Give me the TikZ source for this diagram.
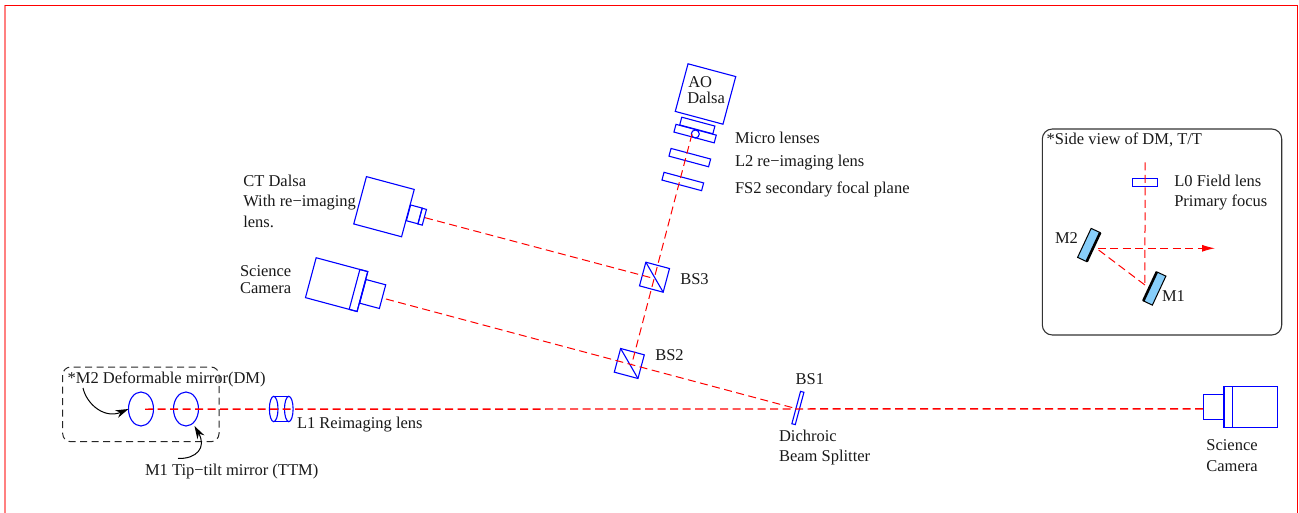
\documentclass[tikz,border=0pt]{standalone}
\usepackage{fontspec}
\setmainfont{Liberation Serif}
\usetikzlibrary{arrows.meta,shapes.geometric}
\definecolor{mirrorblue}{HTML}{87CEFA}
\tikzset{
  optic/.style={draw=blue,line width=1.1pt,rectangle,inner sep=0pt,outer sep=0pt,minimum width=#1},
  tilted/.style={rotate=-15},
  lensdisc/.style={draw=blue,line width=1.1pt,ellipse,inner sep=0pt,outer sep=0pt,minimum width=25pt,minimum height=34pt},
  beam/.style={draw=red,line width=1pt,dash pattern=on 8pt off 4.5pt},
  label/.style={anchor=base west,inner sep=0pt,outer sep=0pt,font=\fontsize{16.5}{18}\selectfont,text=black!90},
  clabel/.style={anchor=base,inner sep=0pt,outer sep=0pt,font=\fontsize{16.5}{18}\selectfont,text=black!90},
  pointer/.style={draw=black,line width=1pt,-{Stealth[length=13pt,width=8pt]}},
  mirrorbar/.style={draw=black,line width=1pt,fill=mirrorblue,rectangle,inner sep=0pt,outer sep=0pt,rotate=-25,minimum width=10pt,minimum height=32pt},
}
\begin{document}
\begin{tikzpicture}[x=1pt,y=-1pt]
\useasboundingbox (0,0) rectangle (1299,513);
% page frame
\draw[red!50,line width=2pt] (5,5) -- (5,513);
\draw[red,line width=1pt] (4.5,5.3) -- (1297,5.3) -- (1297,513);

% --- main rail
\node[lensdisc] (mtwo) at (141,409) {};
\node[lensdisc] (mone) at (186,409) {};
\draw[black!85,line width=1pt,dash pattern=on 7pt off 4.5pt,rounded corners=8pt] (62.7,367) rectangle (219,441.7);
\coordinate (railstart) at (145,409.2);

% L1 cylinder
\node[draw=blue,line width=1.1pt,ellipse,inner sep=0pt,outer sep=0pt,minimum width=8.6pt,minimum height=25.4pt] (lonea) at (273.7,409) {};
\node[draw=blue,line width=1.1pt,ellipse,inner sep=0pt,outer sep=0pt,minimum width=8.6pt,minimum height=25.4pt] (loneb) at (288.8,409) {};
\draw[blue,line width=1.1pt] (lonea.north) -- (loneb.north) (lonea.south) -- (loneb.south);

% right science camera
\node[optic=53.7pt,minimum height=41.7pt] (rbody) at (1250.9,406.9) {};
\node[optic=8.3pt,minimum height=41.7pt] (rband) at (1228.15,406.9) {};
\node[optic=20.7pt,minimum height=24.6pt] (rsmall) at (1213.7,407) {};
\coordinate (railend) at (1203.4,408.8);

% beam splitters
\node[optic=3.5pt,minimum height=33.5pt,tilted] (bsone) at (797.9,408) {};
\node[optic=24.5pt,minimum height=24.5pt,tilted] (bstwo) at (629.3,363.5) {};
\node[optic=24.5pt,minimum height=24.5pt,tilted] (bsthree) at (654.5,277.2) {};
\draw[blue,line width=1.1pt] (bstwo.north west) -- (bstwo.south east);
\draw[blue,line width=1.1pt] (bsthree.north west) -- (bsthree.south east);

% tilted science camera
\node[optic=53.4pt,minimum height=41.3pt,tilted] (sbody) at (336.6,284.6) {};
\node[optic=8.2pt,minimum height=41.3pt,tilted] (sband) at (358.5,290.5) {};
\node[optic=20.4pt,minimum height=24.5pt,tilted] (ssmall) at (372.7,294) {};

% CT Dalsa camera
\node[optic=49.5pt,minimum height=49pt,tilted] (ctbody) at (384,206.7) {};
\node[optic=12pt,minimum height=16.3pt,tilted] (ctlens) at (414.3,214.4) {};
\node[optic=4.5pt,minimum height=16.3pt,tilted] (ctcap) at (422.2,216.7) {};

% AO Dalsa stack
\node[optic=49.4pt,minimum height=49.3pt,tilted] (ao) at (705.5,94) {};
\node[optic=34.3pt,minimum height=8pt,tilted] (mount) at (697.3,125.5) {};
\node[optic=41.7pt,minimum height=8pt,tilted] (micro) at (695.1,133.6) {};
\node[draw=blue,line width=1.1pt,circle,inner sep=0pt,outer sep=0pt,minimum size=8pt] (mlens) at (695.3,134) {};
\node[optic=41pt,minimum height=8pt,tilted] (ltwo) at (689.8,157.6) {};
\node[optic=41pt,minimum height=8pt,tilted] (fstwo) at (682.8,181.5) {};

% beams
\coordinate (aoend) at (692,134);
\coordinate (bstwoc) at (631.5,365);
\coordinate (bsthreec) at (653.3,278.3);
\coordinate (bsonehit) at (795,408.3);
\coordinate (ctend) at (425,217.7);
\coordinate (sciend) at (386,299);
\draw[beam,line width=1.4pt] (railstart) -- (railend);
\draw[beam] (sciend) -- (bsonehit);
\draw[beam] (aoend) -- (bstwoc);
\draw[beam] (ctend) -- (bsthreec);

% pointers
\coordinate (mtwotail) at (83,388);
\coordinate (monetail) at (178,458.5);
\draw[pointer] (mtwotail) .. controls (87,405) and (105,419) .. (mtwo.west);
\draw[pointer] (monetail) .. controls (196,459) and (207,448) .. (194.5,426);

% side view inset
\draw[black!80,line width=1.1pt,rounded corners=10pt] (1042.3,129) rectangle (1281.7,335);
\node[optic=25pt,minimum height=8.4pt] (lzero) at (1145.2,182.5) {};
\node[mirrorbar] (sidetwo) at (1088.9,245) {};
\node[mirrorbar] (sideone) at (1154.6,288.5) {};
\draw[black,line width=2.6pt] (sidetwo.north east) -- (sidetwo.south east);
\draw[black,line width=2.6pt] (sideone.north west) -- (sideone.south west);
\coordinate (vtop) at (1145.1,162.3);
\coordinate (vbot) at (1144.9,285);
\coordinate (hstart) at (1097.7,248.3);
\coordinate (hend) at (1215,248.3);
\coordinate (dstart) at (1097.7,249.3);
\draw[beam] (vtop) -- (vbot);
\draw[beam] (vbot) -- (dstart);
\draw[beam,-{Latex[length=13pt,width=7pt]}] (hstart) -- (hend);

% labels
\node[label] (tdm) at (67.7,383.3) {*M2 Deformable mirror(DM)};
\node[label] (tlone) at (297,428) {L1 Reimaging lens};
\node[label] (ttm) at (145,475) {M1 Tip−tilt mirror (TTM)};
\node[label] (taoa) at (688.3,87.7) {AO};
\node[label] (taob) at (687.3,104) {Dalsa};
\node[label] (tmicro) at (735,144) {Micro lenses};
\node[label] (tltwo) at (735,166.7) {L2 re−imaging lens};
\node[label] (tfs) at (735,194) {FS2 secondary focal plane};
\node[label] (tcta) at (243.3,186.7) {CT Dalsa};
\node[label] (tctb) at (243.3,206.7) {With re−imaging};
\node[label] (tctc) at (243.3,227.7) {lens.};
\node[label] (tsa) at (240,276.7) {Science};
\node[label] (tsb) at (240,294) {Camera};
\node[label] (tbsthree) at (680.3,284.7) {BS3};
\node[label] (tbstwo) at (655.3,360) {BS2};
\node[label] (tbsone) at (795.7,384) {BS1};
\node[label] (tdia) at (779,441.7) {Dichroic};
\node[label] (tdib) at (779,461.7) {Beam Splitter};
\node[clabel] (trsa) at (1232,450) {Science};
\node[clabel] (trsb) at (1232,471) {Camera};
\node[label] (tside) at (1046.7,145) {*Side view of DM, T/T};
\node[label] (tlzero) at (1174.3,186.7) {L0 Field lens};
\node[label] (tprim) at (1174.3,206.7) {Primary focus};
\node[label] (tmtwo) at (1055,243.3) {M2};
\node[label] (tmone) at (1162,301.7) {M1};
\end{tikzpicture}
\end{document}
